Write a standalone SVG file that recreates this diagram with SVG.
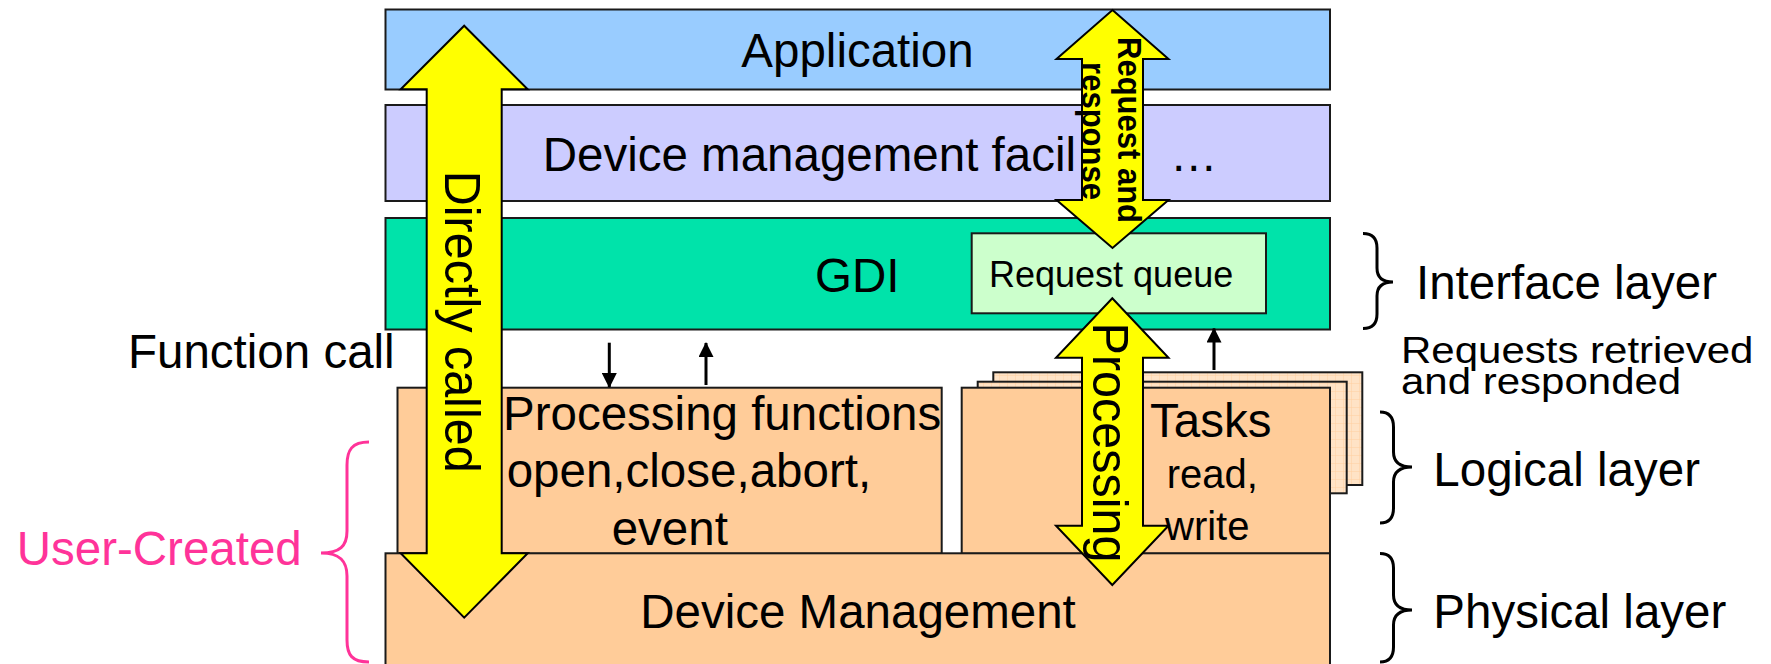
<svg xmlns="http://www.w3.org/2000/svg" width="1771" height="664" viewBox="0 0 1771 664">
  <style>
    text { font-family: "Liberation Sans", Arial, sans-serif; fill: #000; }
    .big { font-size: 47.5px; }
    .mid { font-size: 40px; }
    .box { stroke: #1a1a1a; stroke-width: 2; }
    .app { fill: #99CCFF; }
    .dmf { fill: #CCCCFF; }
    .gdi { fill: #00E3AA; }
    .queue { fill: #CCFFCC; }
    .orange { fill: #FFCC99; }
    .arrow { fill: #FFFF00; stroke: #000; stroke-width: 2; stroke-linejoin: miter; }
    .brace { fill: none; stroke: #000; stroke-width: 3; }
    .pinkbrace { fill: none; stroke: #FF3399; stroke-width: 3; }
    .small { stroke: #000; stroke-width: 3; fill: none; }
  </style>
  <defs>
    <marker id="tip" viewBox="0 0 15 15" refX="14" refY="7.5" markerWidth="15" markerHeight="15" markerUnits="userSpaceOnUse" orient="auto">
      <path d="M0,0 L15,7.5 L0,15 z" fill="#000"/>
    </marker>
    <pattern id="grid" width="8" height="8" patternUnits="userSpaceOnUse">
      <rect width="8" height="8" fill="#FFE3C6"/>
      <path d="M8,0 V8 M0,8 H8" stroke="#FFCFA0" stroke-width="1" fill="none"/>
    </pattern>
  </defs>

  <!-- layer boxes -->
  <g id="application">
    <rect class="box app" x="385.5" y="9.5" width="944.5" height="80"/>
    <text class="big" x="857.5" y="66.7" text-anchor="middle">Application</text>
  </g>
  <g id="device-management-facilities">
    <rect class="box dmf" x="385.5" y="105" width="944.5" height="96"/>
    <text class="big" x="542.7" y="170.7">Device management facil</text>
    <text class="big" x="1170" y="170.7">…</text>
  </g>
  <g id="gdi">
    <rect class="box gdi" x="385.5" y="218" width="944.5" height="111.5"/>
    <text class="big" x="815" y="291.7">GDI</text>
  </g>
  <g id="request-queue">
    <rect class="box queue" x="971.7" y="233.3" width="294.3" height="80"/>
    <text x="989" y="287" font-size="36">Request queue</text>
  </g>
  <g id="processing-functions">
    <rect class="box orange" x="397.5" y="387.7" width="544.2" height="166"/>
    <text class="big" x="503" y="430">Processing functions</text>
    <text class="big" x="506.7" y="486.7">open,close,abort,</text>
    <text class="big" x="611.7" y="545">event</text>
  </g>
  <g id="tasks">
    <rect class="box" x="993.3" y="372.3" width="369" height="112.7" fill="url(#grid)"/>
    <rect class="box" x="977.7" y="381.7" width="369" height="111.6" fill="url(#grid)"/>
    <rect class="box orange" x="961.7" y="387.7" width="368.3" height="166"/>
  </g>
  <g id="device-management">
    <rect class="box orange" x="385.5" y="553.3" width="944.5" height="130"/>
    <text class="big" x="858" y="628.3" text-anchor="middle">Device Management</text>
  </g>

  <!-- side labels -->
  <g id="function-call">
    <text class="big" x="128" y="367.7">Function call</text>
  </g>
  <g id="user-created">
    <path class="pinkbrace" d="M369,442 C352,442 347,450 347,465 L347,531 C347,546 340,553 321,553 C340,553 347,561 347,576 L347,640 C347,655 352,662 369,662"/>
    <text class="big" x="16.7" y="565" style="fill:#FF3399">User-Created</text>
  </g>
  <g id="interface-layer">
    <path class="brace" d="M1363,233.5 C1372,233.5 1377,238 1377,248 L1377,268 C1377,277 1382,282 1393,282 C1382,282 1377,287 1377,296 L1377,314 C1377,324 1372,328.5 1363,328.5"/>
    <text class="big" x="1416" y="299.3">Interface layer</text>
  </g>
  <g id="requests-label">
    <!-- two tightly packed lines, squeezed vertically -->
    <text font-size="42" transform="translate(1401,362.7) scale(1,0.87)"><tspan x="0" y="0">Requests retrieved</tspan><tspan x="0" y="36">and responded</tspan></text>
  </g>
  <g id="logical-layer">
    <path class="brace" d="M1380,412 C1389,412 1393.5,417 1393.5,427 L1393.5,452 C1393.5,462 1399,467 1412,467 C1399,467 1393.5,472 1393.5,482 L1393.5,508 C1393.5,518 1389,523 1380,523"/>
    <text class="big" x="1433.3" y="486">Logical layer</text>
  </g>
  <g id="physical-layer">
    <path class="brace" d="M1380,553.5 C1389,553.5 1393.5,558 1393.5,568 L1393.5,595 C1393.5,605 1399,610 1412,610 C1399,610 1393.5,615 1393.5,625 L1393.5,647 C1393.5,657 1389,662 1380,662"/>
    <text class="big" x="1433.3" y="628.3">Physical layer</text>
  </g>

  <!-- connectors -->
  <g id="connectors">
    <line class="small" x1="609.3" y1="342.7" x2="609.3" y2="387" marker-end="url(#tip)"/>
    <line class="small" x1="706" y1="385" x2="706" y2="343" marker-end="url(#tip)"/>
    <line class="small" x1="1214" y1="370" x2="1214" y2="328.5" marker-end="url(#tip)"/>

    <g id="directly-called">
      <polygon class="arrow" points="464.2,25.7 527.7,89.3 501.7,89.3 501.7,553.3 527.7,553.3 464.2,617.7 400.7,553.3 426.7,553.3 426.7,89.3 400.7,89.3"/>
      <text font-size="48.5" text-anchor="middle" transform="translate(445,321.7) rotate(90) scale(1,1.03)">Directly called</text>
    </g>
    <g id="request-and-response">
      <polygon class="arrow" points="1112.5,10 1168.5,59 1143,59 1143,200 1168.5,200 1112.5,248 1056.5,200 1082,200 1082,59 1056.5,59"/>
      <text font-size="31" font-weight="bold" text-anchor="middle" transform="translate(1118.3,130) rotate(90) scale(1,1.1)">Request and</text>
      <text font-size="31" font-weight="bold" text-anchor="middle" transform="translate(1081.7,131) rotate(90) scale(1,1.1)">response</text>
    </g>
    <g id="processing">
      <polygon class="arrow" points="1112.3,298.3 1168.5,357.7 1143,357.7 1143,525.7 1168.5,525.7 1112.3,585 1056,525.7 1082,525.7 1082,357.7 1056,357.7"/>
      <text font-size="48.5" text-anchor="middle" transform="translate(1093,442.5) rotate(90) scale(1,1.04)">Processing</text>
    </g>
  </g>

  <!-- task labels sit above the processing arrow -->
  <g id="tasks-label">
    <text class="big" x="1150" y="436.7">Tasks</text>
    <text class="mid" x="1166.7" y="488.3">read,</text>
    <text class="mid" x="1165" y="540">write</text>
  </g>
</svg>
